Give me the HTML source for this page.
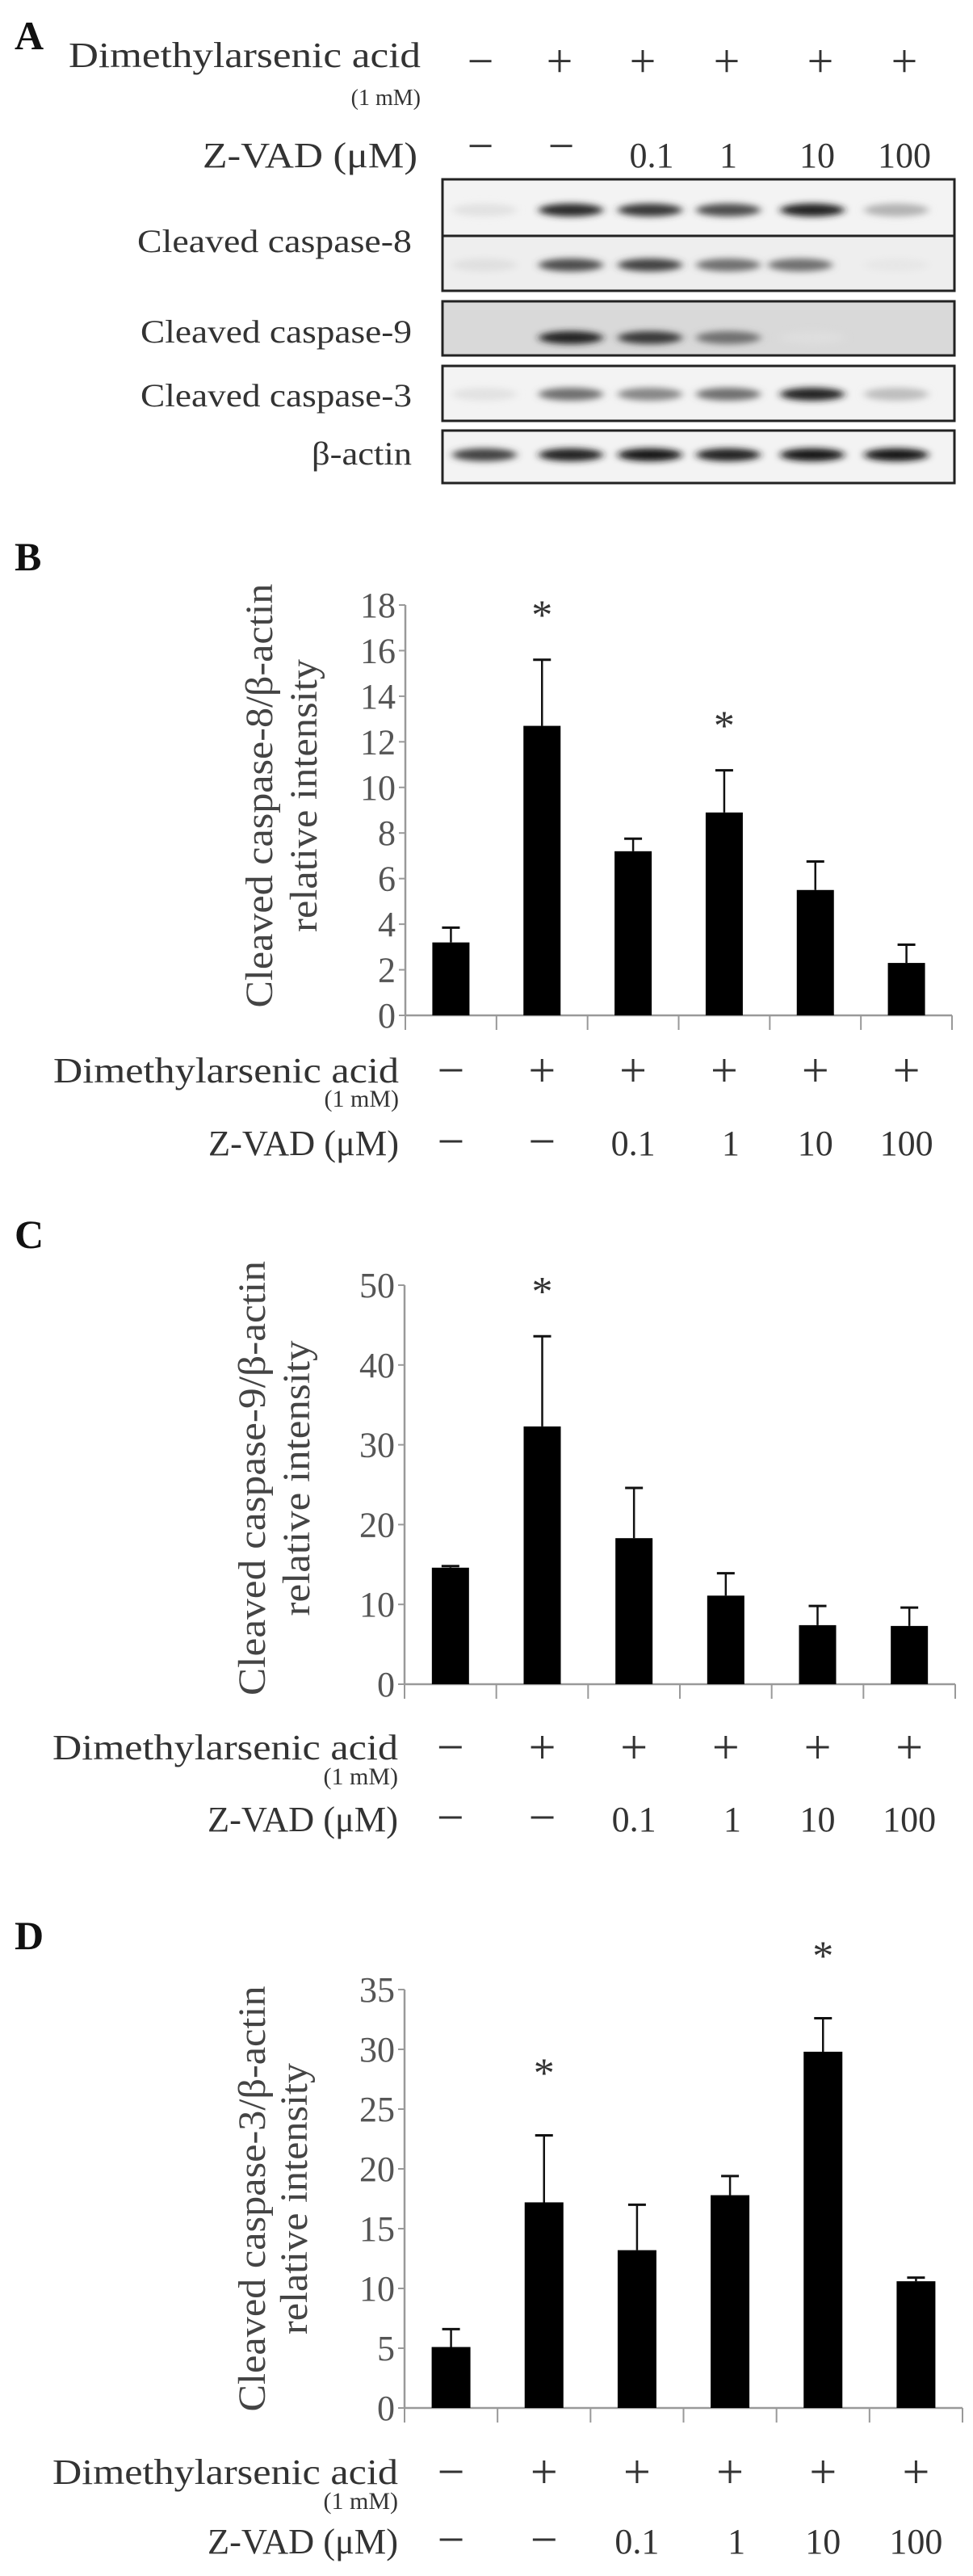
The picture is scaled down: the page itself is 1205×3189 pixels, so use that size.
<!DOCTYPE html>
<html><head><meta charset="utf-8">
<style>
html,body{margin:0;padding:0;background:#fff;}
svg{display:block;}
text{font-family:"Liberation Serif",serif;fill:#333;}
</style></head>
<body>
<svg id="fig" width="1205" height="3189" viewBox="0 0 1205 3189" xmlns="http://www.w3.org/2000/svg">
<defs>
<filter id="blur" x="-30%" y="-200%" width="160%" height="500%"><feGaussianBlur stdDeviation="5 4"/></filter>
</defs>
<!-- Panel A -->
<g>
<text x="18" y="61" font-size="50" font-weight="bold" style="fill:#111">A</text>
<text x="85" y="83" font-size="44" textLength="436" lengthAdjust="spacingAndGlyphs">Dimethylarsenic acid</text>
<text x="521" y="130" font-size="28" text-anchor="end">(1 mM)</text>
<text x="517" y="207" font-size="44" text-anchor="end" textLength="266" lengthAdjust="spacingAndGlyphs">Z-VAD (μM)</text>
<g id="a-signs"></g>
<g id="blots"></g>
<text x="510" y="312" font-size="40" text-anchor="end" textLength="340" lengthAdjust="spacingAndGlyphs">Cleaved caspase-8</text>
<text x="510" y="424" font-size="40" text-anchor="end" textLength="336" lengthAdjust="spacingAndGlyphs">Cleaved caspase-9</text>
<text x="510" y="503" font-size="40" text-anchor="end" textLength="336" lengthAdjust="spacingAndGlyphs">Cleaved caspase-3</text>
<text x="510" y="575" font-size="40" text-anchor="end" textLength="124" lengthAdjust="spacingAndGlyphs">β-actin</text>
</g>
<text x="18" y="706" font-size="50" font-weight="bold" style="fill:#111">B</text>
<text x="18" y="1545" font-size="50" font-weight="bold" style="fill:#111">C</text>
<text x="18" y="2413" font-size="50" font-weight="bold" style="fill:#111">D</text>
<g id="chart-b"></g>
<g id="chart-c"></g>
<g id="chart-d"></g>
</svg>
<script>
// ---- data ----
const dmaSigns = ["−","+","+","+","+","+"];
const zvadLabels = ["−","−","0.1","1","10","100"];
const casp8Means = [3.2, 12.7, 7.2, 8.9, 5.5, 2.3];
const casp8Upper = [3.85, 15.6, 7.75, 10.75, 6.75, 3.1];
const casp8Sig = [false, true, false, true, false, false];
const casp8Ticks = [0,2,4,6,8,10,12,14,16,18];
const casp9Means = [14.6, 32.3, 18.3, 11.1, 7.4, 7.3];
const casp9Upper = [14.8, 43.6, 24.6, 13.9, 9.8, 9.6];
const casp9Sig = [false, true, false, false, false, false];
const casp9Ticks = [0,10,20,30,40,50];
const casp3Means = [5.1, 17.2, 13.2, 17.8, 29.8, 10.6];
const casp3Upper = [6.6, 22.8, 17.0, 19.4, 32.6, 10.9];
const casp3Sig = [false, true, false, false, true, false];
const casp3Ticks = [0,5,10,15,20,25,30,35];
// blot band intensities (0-1)
const bandC8a = [0.04,0.85,0.8,0.7,0.9,0.25];
const bandC8b = [0.05,0.7,0.75,0.55,0.55,0.02];
const bandC9 = [0.0,0.9,0.8,0.55,0.06,0.0];
const bandC3 = [0.04,0.55,0.45,0.55,0.9,0.2];
const bandActin = [0.75,0.9,0.95,0.9,0.95,0.95];

const NS="http://www.w3.org/2000/svg";
function mk(tag, attrs, parent){const e=document.createElementNS(NS,tag);for(const k in attrs)e.setAttribute(k,attrs[k]);parent.appendChild(e);return e;}

// ---- Panel A signs ----
const aSigns=document.getElementById('a-signs');
const aLane=[595,693,796,900,1016,1120];
dmaSigns.forEach((s,i)=>{
  const t=mk('text',{x:aLane[i],y:95,'font-size':58,'text-anchor':'middle'},aSigns);
  
  
  t.textContent=s;
});
zvadLabels.forEach((s,i)=>{
  const t=mk('text',{x:[595,695,807,902,1012,1120][i],y:s==="−"?200:207,'font-size':s==="−"?58:44,'text-anchor':'middle'},aSigns);
  
  
  t.textContent=s;
});

// ---- Blots ----
const blots=document.getElementById('blots');
const lanes=[600,707,805,902,1006,1110];
function blot(y0,y1,bg,name){
  const r=mk('rect',{x:548,y:y0,width:634,height:y1-y0,fill:bg,stroke:'#222','stroke-width':3},blots);
  
  
}
function bands(arr,yc,name,dx){
  arr.forEach((v,i)=>{
    if(v<=0.01)return;
    const g=Math.round(235-225*v);
    const e=mk('ellipse',{cx:lanes[i]+(dx?dx[i]:0),cy:yc,rx:40,ry:8,fill:`rgb(${g},${g},${g})`,filter:'url(#blur)'},blots);
    
    
  });
}
blot(222,292,'#f3f3f3','blot-caspase-8-upper');
blot(292,360,'#eeeeee','blot-caspase-8-lower');
blot(373,440,'#d9d9d9','blot-caspase-9');
blot(453,521,'#f3f3f3','blot-caspase-3');
blot(533,598,'#f3f3f3','blot-beta-actin');
bands(bandC8a,260,'band-caspase-8-upper');
bands(bandC8b,328,'band-caspase-8-lower',[0,0,0,0,-15,0]);
bands(bandC9,418,'band-caspase-9');
bands(bandC3,488,'band-caspase-3',[0,0,0,0,0,0]);
bands(bandActin,563,'band-beta-actin');

// ---- Charts ----
function chart(id,opt,means,upper,sig,ticks){
  const g=document.getElementById(id);
  const x0=opt.x0,x1=opt.x1,yz=opt.y0,ytop=opt.ytop,vmax=ticks[ticks.length-1];
  const yS=v=>yz-(v/vmax)*(yz-ytop);
  const bw=(x1-x0)/means.length;
  const xC=i=>x0+bw*(i+0.5);
  let a=mk('line',{x1:x0,y1:yS(vmax),x2:x0,y2:yz,stroke:'#999','stroke-width':2.5},g);
  
  a=mk('line',{x1:x0,y1:yz,x2:x1,y2:yz,stroke:'#999','stroke-width':2.5},g);
  
  ticks.forEach(v=>{
    const l=mk('line',{x1:x0-8,y1:yS(v),x2:x0,y2:yS(v),stroke:'#999','stroke-width':2},g);
    
    const t=mk('text',{x:x0-12,y:yS(v)+15,'font-size':44,'text-anchor':'end',style:'fill:#555'},g);
    
    t.textContent=v;
  });
  for(let i=0;i<=means.length;i++){
    const l=mk('line',{x1:x0+bw*i,y1:yz,x2:x0+bw*i,y2:yz+18,stroke:'#999','stroke-width':2},g);
    
  }
  means.forEach((m,i)=>{
    const cx=xC(i);
    const el=mk('line',{x1:cx,y1:yS(upper[i]),x2:cx,y2:yS(m),stroke:'#111','stroke-width':2.5},g);
    
    const cap=mk('line',{x1:cx-11,y1:yS(upper[i]),x2:cx+11,y2:yS(upper[i]),stroke:'#111','stroke-width':3},g);
    
    const r=mk('rect',{x:cx-opt.barW/2,y:yS(m),width:opt.barW,height:yz-yS(m),fill:'#000'},g);
    
    if(sig[i]){
      const s=mk('text',{x:cx,y:yS(upper[i])-opt.astGap,'font-size':52,'text-anchor':'middle'},g);
      
      s.textContent='*';
    }
    const d=mk('text',{x:cx,y:opt.signY+19,'font-size':60,'text-anchor':'middle'},g);
    
    d.textContent=dmaSigns[i];
    const isMinus=zvadLabels[i]==="−";
    const z=mk('text',{x:cx+(i===3?8:0),y:isMinus?opt.zY+3:opt.zY,'font-size':isMinus?60:44,'text-anchor':'middle'},g);
    
    z.textContent=zvadLabels[i];
  });
  let t=mk('text',{x:x0-8,y:opt.signY+14,'font-size':44,'text-anchor':'end',textLength:428,lengthAdjust:'spacingAndGlyphs'},g);
  
  t.textContent='Dimethylarsenic acid';
  t=mk('text',{x:x0-8,y:opt.mmY,'font-size':30,'text-anchor':'end'},g);
  
  t.textContent='(1 mM)';
  t=mk('text',{x:x0-8,y:opt.zY,'font-size':44,'text-anchor':'end',textLength:236,lengthAdjust:'spacingAndGlyphs'},g);
  
  t.textContent='Z-VAD (μM)';
  t=mk('text',{x:0,y:0,'font-size':48,'text-anchor':'middle',transform:`translate(${opt.tx1},${opt.tyc}) rotate(-90)`,textLength:opt.tl1,lengthAdjust:'spacingAndGlyphs',style:'fill:#444'},g);
  
  t.textContent=opt.title;
  t=mk('text',{x:0,y:0,'font-size':48,'text-anchor':'middle',transform:`translate(${opt.tx2},${opt.tyc}) rotate(-90)`,textLength:opt.tl2,lengthAdjust:'spacingAndGlyphs',style:'fill:#444'},g);
  
  t.textContent='relative intensity';
}
chart('chart-b',{x0:502,x1:1179,y0:1257,ytop:749,barW:46,astGap:38,signY:1326,mmY:1370,zY:1430,tx1:337,tx2:392,tyc:985,tl1:525,tl2:338,title:'Cleaved caspase-8/β-actin'},casp8Means,casp8Upper,casp8Sig,casp8Ticks);
chart('chart-c',{x0:501,x1:1183,y0:2085,ytop:1591,barW:46,astGap:38,signY:2164,mmY:2209,zY:2267,tx1:328,tx2:383,tyc:1830,tl1:538,tl2:341,title:'Cleaved caspase-9/β-actin'},casp9Means,casp9Upper,casp9Sig,casp9Ticks);
chart('chart-d',{x0:501,x1:1192,y0:2981,ytop:2463,barW:48,astGap:60,signY:3061,mmY:3106,zY:3161,tx1:328,tx2:380,tyc:2722,tl1:527,tl2:336,title:'Cleaved caspase-3/β-actin'},casp3Means,casp3Upper,casp3Sig,casp3Ticks);
</script>
</body></html>
